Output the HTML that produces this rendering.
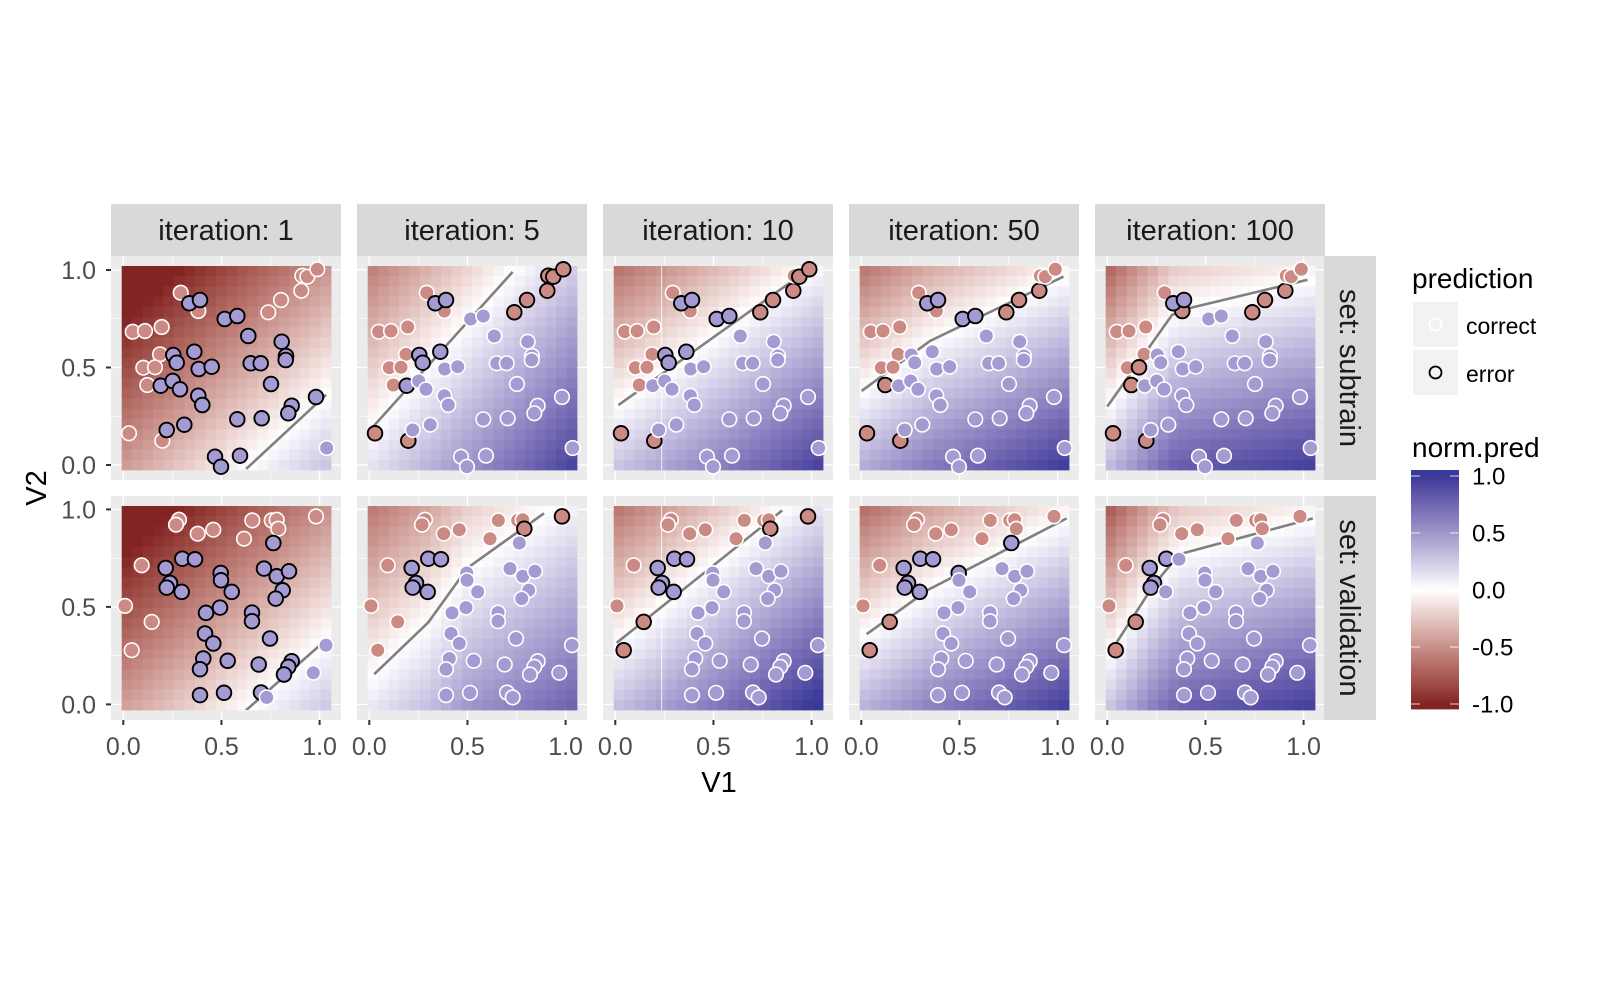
<!DOCTYPE html>
<html><head><meta charset="utf-8">
<style>
html,body{margin:0;padding:0;background:#fff;}
svg{display:block;}
text{font-family:"Liberation Sans",sans-serif;}
</style></head>
<body>
<svg id="s" width="1600" height="1000" xmlns="http://www.w3.org/2000/svg"></svg>
<script>
const S=document.getElementById('s');
let h='';
function hex2rgb(h){return [parseInt(h.substr(1,2),16),parseInt(h.substr(3,2),16),parseInt(h.substr(5,2),16)];}
function s2l(c){c/=255;return c<=0.04045?c/12.92:Math.pow((c+0.055)/1.055,2.4);}
function l2s(c){c=c<=0.0031308?12.92*c:1.055*Math.pow(c,1/2.4)-0.055;return Math.max(0,Math.min(255,Math.round(c*255)));}
function toLab(rgb){const r=s2l(rgb[0]),g=s2l(rgb[1]),b=s2l(rgb[2]);
let X=(0.4124*r+0.3576*g+0.1805*b)/0.95047,Y=(0.2126*r+0.7152*g+0.0722*b),Z=(0.0193*r+0.1192*g+0.9505*b)/1.08883;
const f=t=>t>0.008856?Math.cbrt(t):7.787*t+16/116;
return [116*f(Y)-16,500*(f(X)-f(Y)),200*(f(Y)-f(Z))];}
function fromLab(L){let fy=(L[0]+16)/116,fx=fy+L[1]/500,fz=fy-L[2]/200;
const fi=t=>t*t*t>0.008856?t*t*t:(t-16/116)/7.787;
let X=fi(fx)*0.95047,Y=fi(fy),Z=fi(fz)*1.08883;
let r=3.2406*X-1.5372*Y-0.4986*Z,g=-0.9689*X+1.8758*Y+0.0415*Z,b=0.0557*X-0.2040*Y+1.0570*Z;
return 'rgb('+l2s(r)+','+l2s(g)+','+l2s(b)+')';}
const LO=toLab(hex2rgb('#832424')),MI=toLab(hex2rgb('#ffffff')),HI=toLab(hex2rgb('#3a3a98'));
function col(v){v=Math.max(-1,Math.min(1,v));const a=v<0?LO:HI,t=Math.abs(v);
return fromLab([MI[0]+(a[0]-MI[0])*t,MI[1]+(a[1]-MI[1])*t,MI[2]+(a[2]-MI[2])*t]);}

const r1red=[[242,128],[295,183],[98,245],[135,243],[185,231],[180,313],[130,353],[165,352],[142,405],[87,550],[187,572],[505,187],[543,150],[604,122],[607,77],[622,80],[652,58]];
const r1pur=[[268,160],[300,150],[374,207],[412,198],[445,258],[545,275],[558,318],[557,330],[452,340],[482,340],[220,315],[230,338],[283,305],[296,357],[335,350],[182,407],[218,393],[240,418],[295,437],[307,465],[513,402],[575,467],[565,490],[648,441],[412,508],[485,505],[200,540],[253,524],[345,620],[363,650],[420,617],[680,594]];
const r2red=[[237,103],[228,118],[293,145],[340,133],[457,105],[432,160],[515,105],[530,103],[535,130],[648,93],[125,240],[75,362],[155,410],[95,495]];
const r2pur=[[520,173],[197,248],[247,220],[285,222],[210,293],[200,307],[245,320],[362,263],[363,285],[395,320],[492,250],[530,273],[567,258],[548,315],[527,340],[318,383],[360,367],[456,382],[456,408],[315,445],[340,475],[510,460],[310,520],[300,552],[383,527],[476,538],[575,528],[565,545],[552,568],[678,480],[640,563],[300,630],[372,623],[483,622],[500,637]];
function conv(arr,row,lab){return arr.map(p=>{const X=(100+p[0]/3-123.3)/196.3;
const Y=row==0?(465-250-p[1]/3)/195:(704.3-485-p[1]/3)/195.3;return [X,Y,lab];});}
const pts=[conv(r1red,0,-1).concat(conv(r1pur,0,1)),conv(r2red,1,-1).concat(conv(r2pur,1,1))];

const lines=[
 [[[0.626,-0.02],[1.033,0.36]],[[0.01,0.186],[0.73,0.99]],[[0.016,0.307],[0.967,0.99]],[[0.002,0.38],[0.35,0.636],[1.03,0.966]],[[0,0.30],[0.33,0.77],[0.40,0.80],[1.02,0.95]]],
 [[[0.625,-0.03],[1.043,0.34]],[[0.025,0.155],[0.3,0.42],[0.5,0.7],[0.89,0.98]],[[0.007,0.316],[0.85,0.995]],[[0.027,0.36],[0.34,0.587],[1.046,0.954]],[[0.028,0.287],[0.237,0.613],[0.367,0.77],[1.047,0.954]]]];
const scl=[0.75,0.7,0.9,1.0,1.0];
function yl(poly,x){let n=poly.length;
 if(x<=poly[0][0]){const a=poly[0],b=poly[1];return a[1]+(b[1]-a[1])/(b[0]-a[0])*(x-a[0]);}
 for(let i=0;i<n-1;i++){const a=poly[i],b=poly[i+1];if(x<=b[0])return a[1]+(b[1]-a[1])/(b[0]-a[0])*(x-a[0]);}
 const a=poly[n-2],b=poly[n-1];return a[1]+(b[1]-a[1])/(b[0]-a[0])*(x-a[0]);}

const PUR='#a39bd1',RED='#cb8a83';
const tops=[256,496];
h+='<defs>';
for(let r=0;r<2;r++)for(let c=0;c<5;c++){const L=111+246*c,T=tops[r];
 h+=`<clipPath id="c${r}${c}"><rect x="${L+10.7}" y="${T+10}" width="209.3" height="204"/></clipPath>`;}
h+='</defs>';
for(let r=0;r<2;r++)for(let c=0;c<5;c++){
 const L=111+246*c,T=tops[r],H=224;
 const px=x=>L+12.3+196.3*x, py=y=>T+(r==0?209:208.4)-195*y;
 h+=`<rect x="${L}" y="${T}" width="230" height="${H}" fill="#ebebeb"/>`;
 [0,0.25,0.5,0.75,1].forEach((g,i)=>{const w=i%2?0.6:1.2;
  h+=`<line x1="${px(g)}" x2="${px(g)}" y1="${T}" y2="${T+H}" stroke="#fff" stroke-width="${w}"/>`;
  h+=`<line y1="${py(g)}" y2="${py(g)}" x1="${L}" x2="${L+230}" stroke="#fff" stroke-width="${w}"/>`;});
 const N=20,x0=L+10.7,y0=T+10,tw=209.3/N,th=204/N;
 for(let i=0;i<N;i++)for(let j=0;j<N;j++){
  const cx=x0+(i+0.5)*tw,cy=y0+(j+0.5)*th;
  const dx=(cx-L-12.3)/196.3,dy=((r==0?209:208.4)+T-cy)/195;
  const v=scl[c]*(yl(lines[r][c],dx)-dy);
  h+=`<rect x="${(x0+i*tw).toFixed(2)}" y="${(y0+j*th).toFixed(2)}" width="${(tw+0.4).toFixed(2)}" height="${(th+0.4).toFixed(2)}" fill="${col(v)}"/>`;}
 if(c==2)h+=`<line x1="${px(0.236)}" x2="${px(0.236)}" y1="${T+10}" y2="${T+214}" stroke="#fff" stroke-width="1" opacity="0.8"/>`;
 const poly=lines[r][c];
 h+=`<polyline clip-path="url(#c${r}${c})" points="${poly.map(p=>px(p[0]).toFixed(1)+','+py(p[1]).toFixed(1)).join(' ')}" fill="none" stroke="#808080" stroke-width="2.6"/>`;
 pts[r].forEach(p=>{const v=yl(poly,p[0])-p[1];const ok=(v>0?1:-1)==p[2];
  h+=`<circle cx="${px(p[0]).toFixed(1)}" cy="${py(p[1]).toFixed(1)}" r="7.3" fill="${p[2]>0?PUR:RED}" stroke="${ok?'#fff':'#000'}" stroke-width="${ok?1.6:1.9}"/>`;});
}
['iteration: 1','iteration: 5','iteration: 10','iteration: 50','iteration: 100'].forEach((t,c)=>{const L=111+246*c;
 h+=`<rect x="${L}" y="204" width="230" height="52" fill="#d9d9d9"/><text x="${L+115}" y="240" text-anchor="middle" font-size="29" fill="#1a1a1a">${t}</text>`;});
['set: subtrain','set: validation'].forEach((t,r)=>{const T=tops[r];
 h+=`<rect x="1324" y="${T}" width="52" height="224" fill="#d9d9d9"/><text transform="translate(1340,${T+112}) rotate(90)" text-anchor="middle" font-size="29" fill="#1a1a1a">${t}</text>`;});
for(let r=0;r<2;r++){const T=tops[r];[0,0.5,1].forEach(g=>{const y=T+(r==0?209:208.4)-195*g;
 h+=`<line x1="106" x2="111" y1="${y}" y2="${y}" stroke="#333" stroke-width="2"/><text x="96" y="${y+9}" text-anchor="end" font-size="25" fill="#4d4d4d">${g.toFixed(1)}</text>`;});}
for(let c=0;c<5;c++){const L=111+246*c;[0,0.5,1].forEach(g=>{const x=L+12.3+196.3*g;
 h+=`<line x1="${x}" x2="${x}" y1="720" y2="725" stroke="#333" stroke-width="2"/><text x="${x}" y="755" text-anchor="middle" font-size="25" fill="#4d4d4d">${g.toFixed(1)}</text>`;});}
h+=`<text x="719" y="792" text-anchor="middle" font-size="29" fill="#000">V1</text>`;
h+=`<text transform="translate(46,488) rotate(-90)" text-anchor="middle" font-size="29" fill="#000">V2</text>`;
h+=`<text x="1412" y="288" font-size="28" fill="#000">prediction</text>`;
h+=`<rect x="1413" y="302" width="45" height="45" fill="#f2f2f2"/><circle cx="1435.5" cy="324.5" r="6" fill="none" stroke="#fff" stroke-width="1.8"/><text x="1466" y="334" font-size="23" fill="#000">correct</text>`;
h+=`<rect x="1413" y="350" width="45" height="45" fill="#f2f2f2"/><circle cx="1435.5" cy="372.5" r="6" fill="none" stroke="#000" stroke-width="1.8"/><text x="1466" y="382" font-size="23" fill="#000">error</text>`;
h+=`<text x="1412" y="457" font-size="28" fill="#000">norm.pred</text>`;
const B=80;for(let i=0;i<B;i++){const y0=470+i*239/B;const v=1-2*((y0+239/B/2-476)/228);
 h+=`<rect x="1411" y="${y0.toFixed(2)}" width="48" height="${(239/B+0.4).toFixed(2)}" fill="${col(v)}"/>`;}
[1,0.5,0,-0.5,-1].forEach(v=>{const y=476+(1-v)/2*228;
 h+=`<line x1="1411" x2="1420" y1="${y}" y2="${y}" stroke="#fff" stroke-opacity="0.8" stroke-width="1"/><line x1="1450" x2="1459" y1="${y}" y2="${y}" stroke="#fff" stroke-opacity="0.8" stroke-width="1"/>`;
 h+=`<text x="1472" y="${y+8.5}" font-size="24" fill="#000">${v.toFixed(1)}</text>`;});
S.innerHTML=h;
</script>
</body></html>
